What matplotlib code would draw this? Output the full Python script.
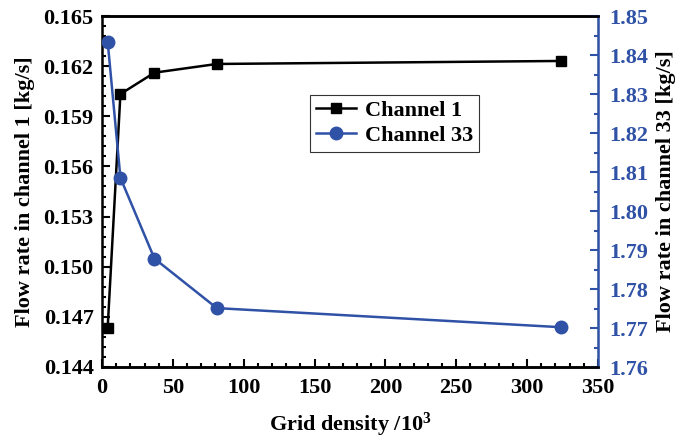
import matplotlib
matplotlib.use('Agg')
import matplotlib.pyplot as plt
from matplotlib.ticker import MultipleLocator, FormatStrFormatter

# data
grid_density = [4, 13, 37, 81, 324]
channel_1 = [0.14635, 0.16033, 0.16161, 0.16213, 0.16231]
channel_33 = [1.8434, 1.8085, 1.7878, 1.7751, 1.7702]

blue = '#2F51A6'
plt.rcParams['font.family'] = ['Liberation Serif', 'DejaVu Serif']
plt.rcParams['font.weight'] = 'bold'
plt.rcParams['mathtext.fontset'] = 'custom'
plt.rcParams['mathtext.rm'] = 'Liberation Serif:bold'

fig = plt.figure(figsize=(6.87, 4.42), dpi=100)
ax = fig.add_axes([102 / 687, 1 - 367 / 442, 496 / 687, 351 / 442])
ax2 = ax.twinx()

l1, = ax.plot(grid_density, channel_1, color='black', lw=1.8, marker='s', ms=7.5, label='Channel 1')
l2, = ax2.plot(grid_density, channel_33, color=blue, lw=1.8, marker='o', ms=9, label='Channel 33')

ax.set_xlim(0, 350)
ax.set_ylim(0.144, 0.165)
ax2.set_ylim(1.76, 1.85)

ax.xaxis.set_major_locator(MultipleLocator(50))
ax.xaxis.set_minor_locator(MultipleLocator(10))
ax.yaxis.set_major_locator(MultipleLocator(0.003))
ax.yaxis.set_minor_locator(MultipleLocator(0.0006))
ax.yaxis.set_major_formatter(FormatStrFormatter('%.3f'))
ax2.yaxis.set_major_locator(MultipleLocator(0.01))
ax2.yaxis.set_minor_locator(MultipleLocator(0.005))
ax2.yaxis.set_major_formatter(FormatStrFormatter('%.2f'))

ax.tick_params(which='both', direction='in', width=1.5, labelsize=16, top=False)
ax.tick_params(axis='y', pad=6)
ax.tick_params(axis='x', pad=8)
ax.tick_params(which='major', length=6)
ax.tick_params(which='minor', length=3)
ax2.tick_params(which='both', direction='in', width=1.5, labelsize=16, colors=blue, labelcolor=blue, pad=8)
ax2.tick_params(which='major', length=6)
ax2.tick_params(which='minor', length=3)

for s in ['left', 'bottom', 'top']:
    ax.spines[s].set_linewidth(1.8)
ax2.spines['right'].set_color(blue)
ax2.spines['right'].set_linewidth(1.8)
ax2.spines['left'].set_visible(False)
ax2.spines['top'].set_linewidth(1.8)
ax2.spines['bottom'].set_linewidth(1.8)

ax.set_xlabel('Grid density /$\\mathregular{10^3}$', fontsize=16, fontweight='bold', labelpad=9)
ax.set_ylabel('Flow rate in channel 1 [kg/s]', fontsize=16, fontweight='bold', labelpad=6)
ax2.set_ylabel('Flow rate in channel 33 [kg/s]', fontsize=16, fontweight='bold', color='black', labelpad=6)

leg = ax.legend(handles=[l1, l2], loc='upper left', bbox_to_anchor=(0.42, 0.775),
                fontsize=16, frameon=True, fancybox=False, edgecolor='black',
                handlelength=1.8, handletextpad=0.4, borderpad=0.25, labelspacing=0.2,
                borderaxespad=0)
leg.get_frame().set_linewidth(0.8)

fig.savefig('out.png', dpi=100)
